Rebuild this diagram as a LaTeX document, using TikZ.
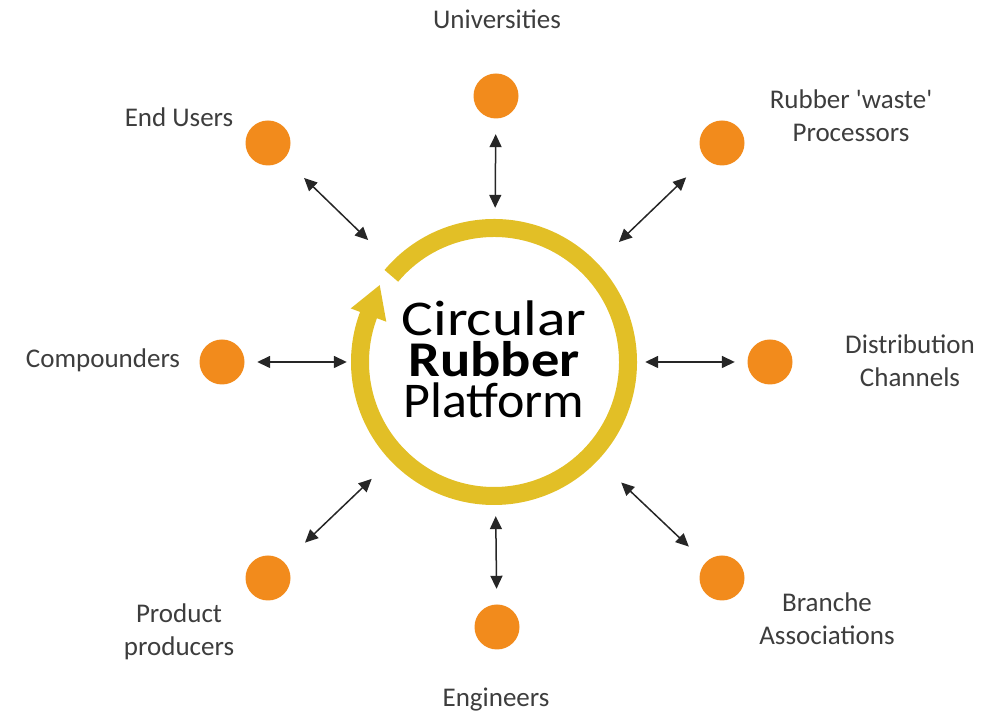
\documentclass[tikz,border=0pt]{standalone}
\usepackage{fontspec}
\usepackage{graphicx}
\setmainfont{Carlito}
\usetikzlibrary{arrows.meta,calc}
\definecolor{ringc}{HTML}{E2BF26}
\definecolor{dotc}{HTML}{F28B1C}
\definecolor{labc}{HTML}{3D3D3D}
\begin{document}
\begin{tikzpicture}[x=1pt,y=1pt,
  dot/.style={circle,fill=dotc,minimum size=45pt,inner sep=0pt},
  lab/.style={text=labc,font=\fontsize{27}{33}\selectfont,align=center,anchor=base,inner sep=0pt},
  link/.style={draw=black!85,line width=1.5pt,{Triangle[length=13pt,width=12pt]}-{Triangle[length=13pt,width=12pt]}},
  big/.style={font=\fontsize{50}{41}\selectfont,align=center,anchor=base,inner sep=0pt,text=black}]
\useasboundingbox (0,0) rectangle (987,714);
% ring
\node[circle,minimum size=286pt,inner sep=0pt] (ring) at (494,352) {};
\draw[ringc,line width=18pt] ($(ring.center)+(140:134)$) arc[start angle=140,end angle=-201,radius=134];
\fill[ringc] ($(ring.center)+(159.5:153)$) -- ($(ring.center)+(159.5:115)$) -- ($(ring.center)+(159.5:134)+(69.5:32)$) -- cycle;
\node[big] (title) at (494,296) {\scalebox{1.19}[1]{Circular}\\\scalebox{1.13}[1]{\bfseries Rubber}\\\scalebox{1.04}[1]{Platform}};
% dots
\node[dot] (uni) at (496,618) {};
\node[dot] (rwp) at (722,571) {};
\node[dot] (dch) at (770,352) {};
\node[dot] (bra) at (722,136) {};
\node[dot] (eng) at (497,87) {};
\node[dot] (pro) at (268,136) {};
\node[dot] (com) at (222,352) {};
\node[dot] (end) at (268,571) {};
% labels
\node[lab] (luni) at (497,685) {Universities};
\node[lab] (lend) at (179,587) {End Users};
\node[lab] (lrwp) at (851,572) {Rubber \textquotesingle waste\textquotesingle\\Processors};
\node[lab] (ldch) at (910,327) {Distribution\\Channels};
\node[lab] (lbra) at (827,69) {Branche\\Associations};
\node[lab] (lpro) at (179,58) {Product\\producers};
\node[lab] (leng) at (496,7) {Engineers};
\node[lab] (lcom) at (103,346) {Compounders};
% connectors
\draw[link,shorten <=15.5pt,shorten >=11pt] (uni) -- (ring);
\draw[link,shorten <=27pt,shorten >=30pt] (rwp) -- (ring);
\draw[link,shorten <=12.5pt,shorten >=8pt] (dch) -- (ring);
\draw[link,shorten <=23pt,shorten >=32pt] (bra) -- (ring);
\draw[link,shorten <=15.5pt,shorten >=11pt] (eng) -- (ring);
\draw[link,shorten <=28.5pt,shorten >=26pt] (pro) -- (ring);
\draw[link,shorten <=12.5pt,shorten >=4pt] (com) -- (ring);
\draw[link,shorten <=27.5pt,shorten >=32pt] (end) -- (ring);
\end{tikzpicture}
\end{document}
